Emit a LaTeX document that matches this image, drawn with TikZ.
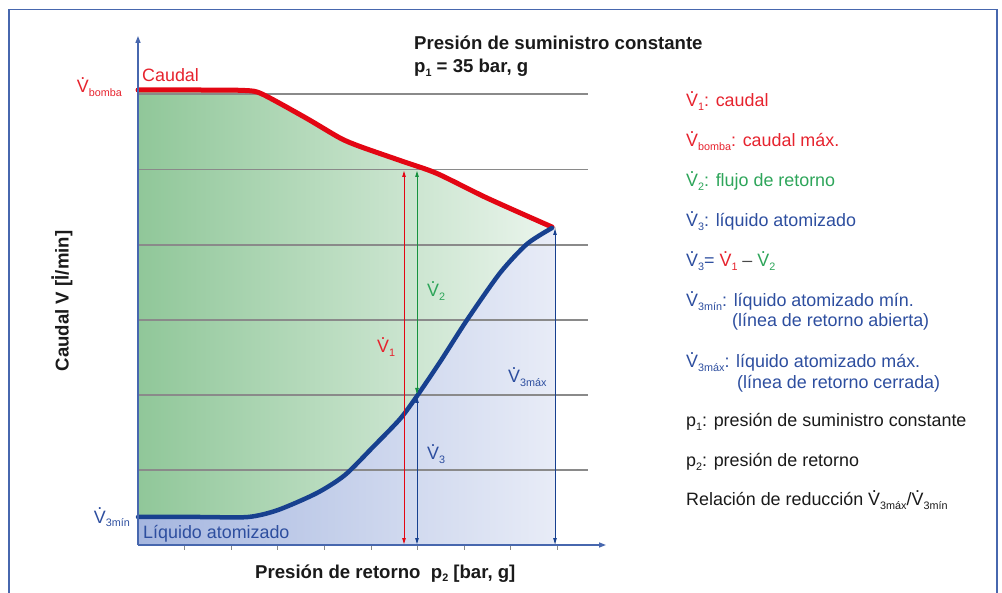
\documentclass[tikz,border=0pt]{standalone}
\usepackage{fontspec}
\setmainfont{Liberation Sans}
\usepackage{xcolor}
\usepackage{tikz}
\usetikzlibrary{arrows.meta}
\definecolor{rojo}{HTML}{E30613}
\definecolor{rojotxt}{HTML}{E6232E}
\definecolor{verde}{HTML}{2EA55A}
\definecolor{verdeosc}{HTML}{17913F}
\definecolor{azul}{HTML}{17408F}
\definecolor{azultxt}{HTML}{2D4E9F}
\definecolor{gris}{HTML}{8A8A8A}
\definecolor{negro}{HTML}{1A1A1A}
\definecolor{marcoazul}{HTML}{4767AE}
\definecolor{verdeA}{HTML}{90C799}
\definecolor{verdeB}{HTML}{EBF5ED}
\definecolor{azulA}{HTML}{A5B6DF}
\definecolor{azulB}{HTML}{E8ECF7}
\newcommand{\Vpt}{\leavevmode\hbox{V\llap{\makebox[0.667em]{\raisebox{.74em}{.}}}}}
\newcommand{\Sb}[1]{\raisebox{-.2em}{\fontsize{10.8}{12}\selectfont #1}}
\newcommand{\Vs}[1]{\Vpt\Sb{#1}}
\newcommand{\ldot}{\leavevmode\hbox{l\llap{\makebox[0.278em]{\raisebox{.78em}{.}}}}}
\tikzset{rejilla/.style={draw=gris, line width=1.8pt},
    eje/.style={draw=marcoazul, line width=1.3pt, -{Triangle[length=7pt,width=5pt]}},
    cota/.style={line width=0.9pt,
        {Triangle[length=6pt,width=3.5pt]}-{Triangle[length=6pt,width=3.5pt]}},
    leyenda/.style={anchor=base west, inner sep=0pt},
    negrita/.style={font=\fontsize{18.6}{22}\selectfont\bfseries, text=negro, inner sep=0pt}}

\begin{document}
\begin{tikzpicture}[x=1pt, y=-1pt,
        every node/.style={font=\fontsize{17.9}{21}\selectfont},
        caudal/.style={draw=rojo, line width=5pt, line cap=round},
        atomizado/.style={draw=azul, line width=4.5pt, line cap=round},
        marca/.style={draw=gris, line width=1pt}]
    \useasboundingbox (0,0) rectangle (1002,593);
    \draw[marcoazul, line width=1.5pt] (9,593) -- (9,9.5) -- (997,9.5) -- (997,593);
    % areas
    \fill[left color=verdeA, right color=verdeB] plot[smooth, tension=.45] coordinates {(138,90) (200,90) (245,90.5) (262,94) (306,118) (340,138) (360,146.5) (403,161.5) (437,173.5) (487,198) (552,227)} -- (555,227) -- (555,545) -- (138,545) -- cycle;
    \fill[left color=azulA, right color=azulB] plot[smooth, tension=.45] coordinates {(138,517) (200,517) (248,517) (278,510) (317,493) (345,475) (373,447) (400,419) (417,396) (440,362) (467,320) (500,273) (527,244) (552,228)} -- (555,228) -- (555,545) -- (138,545) -- cycle;
    \foreach \y in {94.3,169.5,244.7,320,395.2,470.4}
        \draw[rejilla] (138,\y) -- (588,\y);
    \foreach \k in {1,...,9}
        \draw[marca] ({138+46.6*\k},545) -- ++(0,5);
    % curvas
    \draw[caudal] plot[smooth, tension=.45] coordinates {(138,90) (200,90) (245,90.5) (262,94) (306,118) (340,138) (360,146.5) (403,161.5) (437,173.5) (487,198) (552,227)};
    \draw[atomizado] plot[smooth, tension=.45] coordinates {(138,517) (200,517) (248,517) (278,510) (317,493) (345,475) (373,447) (400,419) (417,396) (440,362) (467,320) (500,273) (527,244) (552,228)};
    % ejes
    \coordinate (O) at (138,545);
    \coordinate (Ytop) at (138,36);
    \coordinate (Xend) at (606,545);
    \draw[eje] (O) -- (Ytop);
    \draw[eje] (O) -- (Xend);
    % cotas
    \coordinate (v1a) at (404,171);
    \coordinate (v1b) at (404,544);
    \coordinate (v2a) at (417,171);
    \coordinate (v2b) at (417,394);
    \coordinate (v3a) at (417,397);
    \coordinate (v3b) at (417,544);
    \coordinate (vmaxa) at (555,229);
    \coordinate (vmaxb) at (555,544);
    \draw[cota, rojo] (v1a) -- (v1b);
    \draw[cota, verdeosc] (v2a) -- (v2b);
    \draw[cota, azul] (v3a) -- (v3b);
    \draw[cota, azul] (vmaxa) -- (vmaxb);
    \node[leyenda, text=rojotxt] (V1) at (377,353) {\Vs{1}};
    \node[leyenda, text=verde] (V2) at (427,297) {\Vs{2}};
    \node[leyenda, text=azultxt] (V3) at (427,460) {\Vs{3}};
    \node[leyenda, text=azultxt] (V3max) at (508,383) {\Vs{3máx}};
    \node[leyenda, text=rojotxt] (caud) at (142,82) {Caudal};
    \node[leyenda, text=azultxt] (liq) at (143,538) {Líquido atomizado};
    \node[anchor=base east, inner sep=0pt, text=rojotxt] (Vbomba) at (122,93) {\Vs{bomba}};
    \node[anchor=base east, inner sep=0pt, text=azultxt] (V3min) at (130,523) {\Vs{3mín}};
    % rotulos
    \node[negrita, anchor=base west] (tit1) at (414,50) {Presión de suministro constante};
    \node[negrita, anchor=base west] (tit2) at (414,73) {p\Sb{1} = 35 bar, g};
    \node[negrita, anchor=base west] (xlab) at (255,578) {Presión de retorno\ \ p\Sb{2} [bar, g]};
    \node[negrita, rotate=90] (ylab) at (62,301) {Caudal V [\ldot/min]};
    % leyenda
    \node[leyenda, text=rojotxt] (leg1) at (686,107) {\Vs{1}: caudal};
    \node[leyenda, text=rojotxt] (leg2) at (686,147) {\Vs{bomba}: caudal máx.};
    \node[leyenda, text=verde] (leg3) at (686,187) {\Vs{2}: flujo de retorno};
    \node[leyenda, text=azultxt] (leg4) at (686,227) {\Vs{3}: líquido atomizado};
    \node[leyenda] (leg5) at (686,267) {\textcolor{azultxt}{\Vs{3}=} \textcolor{rojotxt}{\Vs{1}} \textcolor{negro!80}{–} \textcolor{verde}{\Vs{2}}};
    \node[leyenda, text=azultxt] (leg6) at (686,307) {\Vs{3mín}: líquido atomizado mín.};
    \node[leyenda, text=azultxt] (leg6b) at (732,327) {(línea de retorno abierta)};
    \node[leyenda, text=azultxt] (leg7) at (686,368) {\Vs{3máx}: líquido atomizado máx.};
    \node[leyenda, text=azultxt] (leg7b) at (737,389) {(línea de retorno cerrada)};
    \node[leyenda, text=negro] (leg8) at (686,427) {p\Sb{1}: presión de suministro constante};
    \node[leyenda, text=negro] (leg9) at (686,467) {p\Sb{2}: presión de retorno};
    \node[leyenda, text=negro] (leg10) at (686,506) {Relación de reducción \Vs{3máx}/\Vs{3mín}};
\end{tikzpicture}
\end{document}
